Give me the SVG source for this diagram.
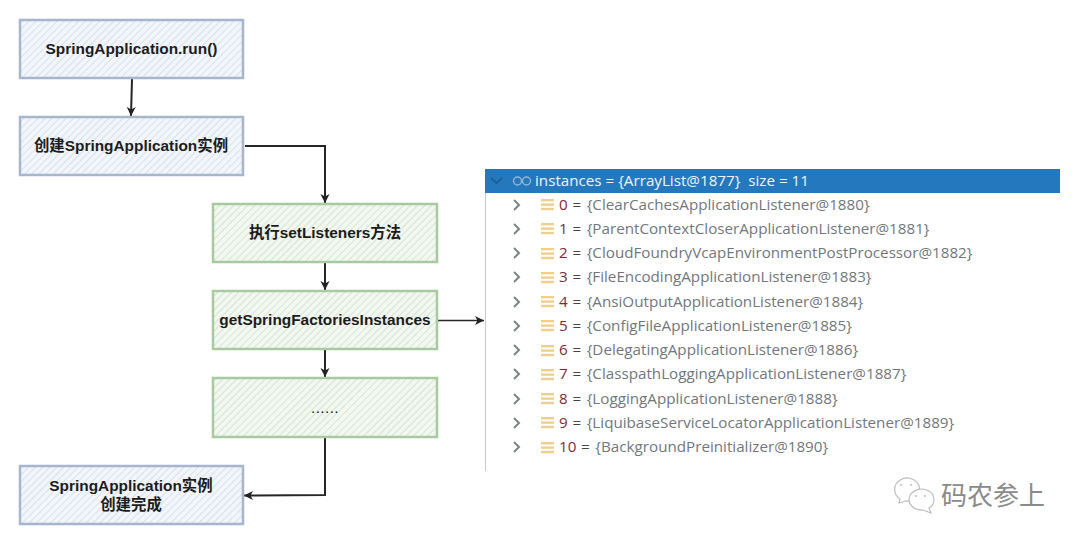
<svg xmlns="http://www.w3.org/2000/svg" width="1080" height="544" viewBox="0 0 1080 544">
<style>
.b{stroke:#a6b7cd;stroke-width:2.5;fill:url(#hb)}
.g{stroke:#a9c9a0;stroke-width:2.5;fill:url(#hg)}
.t{font:bold 15.4px "Liberation Sans","Noto Sans CJK SC",sans-serif;fill:#1c1c1c;text-anchor:middle}
.c{fill:none;stroke:#262626;stroke-width:2;marker-end:url(#ah)}
.r{font:15.2px "Open Sans","Noto Sans",sans-serif;fill:#72777c}
.n{fill:#7d2b3a}
.eq{fill:#444;letter-spacing:.8px}
.ch{fill:none;stroke:#7d8388;stroke-width:2}
.ic{fill:#efcf8f}
</style>
<defs>
<pattern id="hb" width="5" height="5" patternUnits="userSpaceOnUse" patternTransform="rotate(45)"><rect width="5" height="5" fill="#f2f5fa"/><rect width="1" height="5" fill="#d8e1ec"/></pattern>
<pattern id="hg" width="5" height="5" patternUnits="userSpaceOnUse" patternTransform="rotate(45)"><rect width="5" height="5" fill="#f3f7f1"/><rect width="1" height="5" fill="#d6e5d1"/></pattern>
<marker id="ah" markerWidth="11" markerHeight="11" refX="9" refY="5" orient="auto" markerUnits="userSpaceOnUse"><path d="M0,0.5L9,5L0,9.500L2.500,5Z" fill="#222"/></marker>
<g id="lines"><rect x="0" y="0" width="13" height="2.4"/><rect x="0" y="4.4" width="13" height="2.4"/><rect x="0" y="8.8" width="13" height="2.4"/></g>
</defs>
<g id="connectors">
<path class="c" d="M132,79L131,116"/>
<path class="c" d="M245,146L325,146L325,203"/>
<path class="c" d="M325,263L325,290"/>
<path class="c" d="M325,350L325,377"/>
<path class="c" style="stroke-width:1.500" d="M438,320.500L484,320.500"/>
<path class="c" d="M325,438L325,495L244,495.500"/>
</g>
<g id="n1"><rect class="b" x="20" y="20" width="223" height="58"/><text class="t" x="131.500" y="54">SpringApplication.run()</text></g>
<g id="n2"><rect class="b" x="20" y="117" width="223" height="58"/><text class="t" x="131" y="151">创建SpringApplication实例</text></g>
<g id="n3"><rect class="g" x="213" y="204" width="224" height="58"/><text class="t" x="325" y="238">执行setListeners方法</text></g>
<g id="n4"><rect class="g" x="213" y="291" width="224" height="58"/><text class="t" x="325" y="325">getSpringFactoriesInstances</text></g>
<g id="n5"><rect class="g" x="213" y="378" width="224" height="59"/><text class="t" style="font-weight:normal;letter-spacing:.4px" x="325" y="413">......</text></g>
<g id="n6"><rect class="b" x="20" y="466" width="223" height="58"/><text class="t" x="131" y="491">SpringApplication实例</text><text class="t" x="131" y="510">创建完成</text></g>
<g id="panel">
<path d="M485.500,193V471" stroke="#c9c9c9" fill="none"/>
<rect x="485" y="169" width="575" height="24" fill="#2478bd"/>
<path d="M491,178l5.500,5l5.500,-5" fill="none" stroke="#1e5f96" stroke-width="2"/>
<g fill="none" stroke="#8fb4d4" stroke-width="1.500"><circle cx="517.500" cy="181" r="4"/><circle cx="526.500" cy="181" r="4"/></g>
<text x="535" y="186" font-family="Open Sans,Noto Sans,sans-serif" font-size="15.200" fill="#eef5fb" xml:space="preserve">instances = {ArrayList@1877}  size = 11</text>
<g id="row0"><path class="ch" d="M514,200l5,5l-5,5"/><use href="#lines" x="541" y="199" class="ic"/><text class="r" x="559" y="210"><tspan class="n">0</tspan><tspan class="eq"> = </tspan>{ClearCachesApplicationListener@1880}</text></g>
<g id="row1"><path class="ch" d="M514,224l5,5l-5,5"/><use href="#lines" x="541" y="223" class="ic"/><text class="r" x="559" y="234"><tspan class="n">1</tspan><tspan class="eq"> = </tspan>{ParentContextCloserApplicationListener@1881}</text></g>
<g id="row2"><path class="ch" d="M514,248l5,5l-5,5"/><use href="#lines" x="541" y="248" class="ic"/><text class="r" x="559" y="258"><tspan class="n">2</tspan><tspan class="eq"> = </tspan>{CloudFoundryVcapEnvironmentPostProcessor@1882}</text></g>
<g id="row3"><path class="ch" d="M514,272l5,5l-5,5"/><use href="#lines" x="541" y="272" class="ic"/><text class="r" x="559" y="282"><tspan class="n">3</tspan><tspan class="eq"> = </tspan>{FileEncodingApplicationListener@1883}</text></g>
<g id="row4"><path class="ch" d="M514,297l5,5l-5,5"/><use href="#lines" x="541" y="296" class="ic"/><text class="r" x="559" y="307"><tspan class="n">4</tspan><tspan class="eq"> = </tspan>{AnsiOutputApplicationListener@1884}</text></g>
<g id="row5"><path class="ch" d="M514,321l5,5l-5,5"/><use href="#lines" x="541" y="320" class="ic"/><text class="r" x="559" y="331"><tspan class="n">5</tspan><tspan class="eq"> = </tspan>{ConfigFileApplicationListener@1885}</text></g>
<g id="row6"><path class="ch" d="M514,345l5,5l-5,5"/><use href="#lines" x="541" y="345" class="ic"/><text class="r" x="559" y="355"><tspan class="n">6</tspan><tspan class="eq"> = </tspan>{DelegatingApplicationListener@1886}</text></g>
<g id="row7"><path class="ch" d="M514,369l5,5l-5,5"/><use href="#lines" x="541" y="369" class="ic"/><text class="r" x="559" y="379"><tspan class="n">7</tspan><tspan class="eq"> = </tspan>{ClasspathLoggingApplicationListener@1887}</text></g>
<g id="row8"><path class="ch" d="M514,394l5,5l-5,5"/><use href="#lines" x="541" y="393" class="ic"/><text class="r" x="559" y="404"><tspan class="n">8</tspan><tspan class="eq"> = </tspan>{LoggingApplicationListener@1888}</text></g>
<g id="row9"><path class="ch" d="M514,418l5,5l-5,5"/><use href="#lines" x="541" y="417" class="ic"/><text class="r" x="559" y="428"><tspan class="n">9</tspan><tspan class="eq"> = </tspan>{LiquibaseServiceLocatorApplicationListener@1889}</text></g>
<g id="row10"><path class="ch" d="M514,442l5,5l-5,5"/><use href="#lines" x="541" y="442" class="ic"/><text class="r" x="559" y="452"><tspan class="n">10</tspan><tspan class="eq"> = </tspan>{BackgroundPreinitializer@1890}</text></g>
</g>
<g id="watermark">
<g fill="#fff" stroke="#bdbdbd" stroke-width="1.200">
<path d="M899,503l1,-4a12.500,11.500 0 1 1 6,2z"/>
<path d="M931,513l-2,-5a12.500,10.500 0 1 0 -6,2z"/>
</g>
<g fill="#bdbdbd"><circle cx="901" cy="485" r="1"/><circle cx="911" cy="485" r="1"/><circle cx="916" cy="496" r="1"/><circle cx="925" cy="496" r="1"/></g>
<text x="941" y="505" font-family="Noto Sans CJK SC,sans-serif" font-size="26" fill="#8a8a8a">码农参上</text>
</g>
</svg>
